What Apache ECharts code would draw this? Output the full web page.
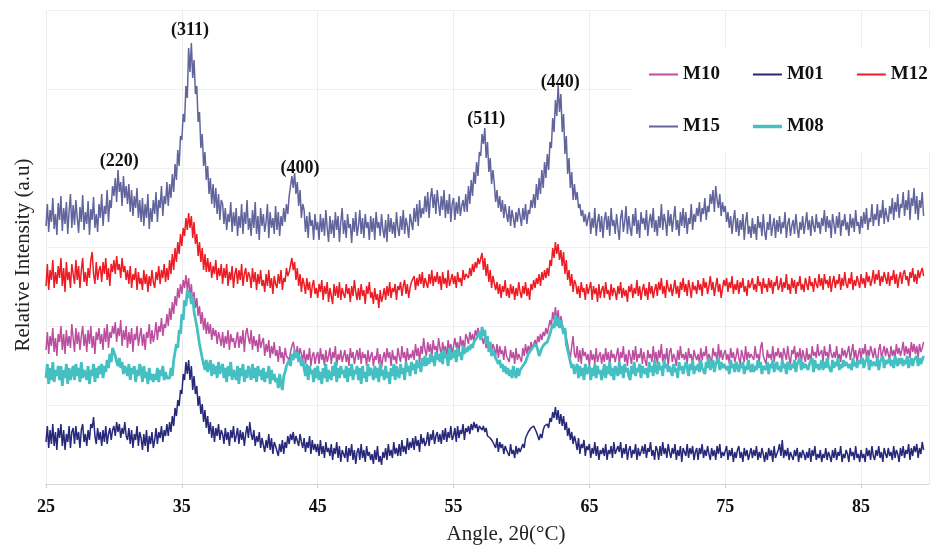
<!DOCTYPE html>
<html>
<head>
<meta charset="utf-8">
<title>XRD patterns</title>
<script src="https://cdn.jsdelivr.net/npm/echarts@6/dist/echarts.min.js"></script>
<style>
  html, body { margin: 0; padding: 0; background: #fff; }
  #chart { width: 933px; height: 555px; }
</style>
</head>
<body>
<div id="chart"></div>
<script>
// 2theta grid: 25.0 .. 89.6, step 0.1
const startAngle = 25
const stepAngle = 0.1

// intensities (a.u., offset per sample), one row = 2 degrees
const m15 = [
  258,280,252,274,262,286,255,270,249,281, 264,288,253,276,260,282,250,273,290,256,
  279,259,284,266,251,277,262,289,254,272, 260,283,249,275,264,287,256,270,252,280,
  266,290,258,278,270,294,262,284,276,298, 288,306,282,314,292,302,278,308,286,298,
  280,300,272,294,268,288,276,296,266,284, 262,286,258,280,266,290,255,276,262,284,
  270,292,262,284,276,298,268,288,280,302, 278,300,286,310,292,320,304,334,318,348,
  344,370,362,398,386,436,412,441,406,424, 390,398,362,372,336,350,318,332,304,318,
  290,306,280,300,276,296,270,290,264,284, 280,260,276,254,270,262,282,252,272,258,
  276,248,268,256,280,250,272,260,284,254, 266,248,274,256,282,250,268,244,276,258,
  270,252,262,280,246,272,256,266,250,278, 254,272,248,268,258,276,262,280,270,288,
  286,308,296,311,290,302,278,294,266,280, 274,252,268,246,272,258,264,244,270,254,
  262,244,270,252,266,248,274,256,242,268, 250,264,246,272,254,268,242,262,276,250,
  264,246,270,256,260,241,266,252,272,248, 258,274,250,266,246,270,256,262,244,268,
  252,266,244,272,256,262,248,270,254,246, 264,242,270,252,266,250,262,246,272,256,
  248,268,254,274,250,266,258,246,270,262, 254,276,262,280,258,284,266,276,270,288,
  272,292,266,286,296,276,290,270,294,280, 268,288,274,294,266,284,270,290,262,280,
  286,264,282,270,288,268,278,284,272,290, 272,298,280,304,288,312,300,322,308,332,
  328,350,340,356,326,342,312,326,300,314, 300,282,294,276,288,272,284,266,280,270,
  262,278,258,274,266,256,272,262,276,268, 258,276,264,280,260,274,270,284,276,290,
  276,300,284,306,290,314,296,322,306,330, 314,342,336,366,352,384,368,399,372,390,
  352,370,330,348,310,326,296,312,284,300, 284,292,276,280,268,274,262,270,258,266,
  272,250,266,256,276,248,262,270,252,268, 246,264,272,254,268,248,276,258,264,250,
  270,256,244,266,274,252,262,278,250,268, 256,248,270,258,276,250,264,246,272,260,
  266,254,274,248,262,270,256,276,252,264, 248,268,256,280,254,270,262,248,274,258,
  270,252,266,278,254,264,248,272,258,276, 256,272,250,266,260,280,254,270,262,276,
  268,282,262,276,270,286,264,278,272,290, 280,294,272,298,284,276,290,268,282,272,
  278,262,272,256,268,250,264,274,252,266, 248,264,254,270,244,262,272,250,258,246,
  266,250,260,244,268,256,262,248,270,252, 244,262,254,270,248,258,266,246,264,252,
  268,250,262,256,272,246,260,266,248,258, 264,250,270,256,246,262,254,268,250,260,
  272,254,264,248,268,258,252,270,256,262, 250,266,258,274,252,268,256,264,246,270,
  260,250,268,256,272,248,264,258,270,254, 262,248,270,256,266,252,274,258,262,250,
  268,256,272,260,276,254,266,262,280,258, 270,264,280,258,274,266,284,260,276,268,
  262,278,270,286,264,282,272,290,266,280, 276,292,268,284,274,294,264,286,278,296,
  270,288,264,284,276,292,268
]
const m12 = [
  198,220,194,214,204,224,196,212,200,218, 206,226,198,216,192,222,204,212,196,220,
  210,200,224,204,218,196,214,226,202,212, 198,216,206,224,232,210,200,222,204,214,
  218,202,222,210,226,204,216,198,220,212, 224,210,228,214,220,206,226,212,218,204,
  214,200,218,196,210,204,216,194,212,200, 206,194,214,200,210,192,208,198,214,202,
  196,212,204,218,200,214,206,220,202,216, 204,224,210,230,214,236,222,242,230,250,
  238,256,248,266,254,271,256,268,246,262, 240,250,228,242,222,236,214,230,212,226,
  212,222,206,218,210,224,204,216,208,220, 200,216,206,220,198,212,204,218,196,210,
  216,200,214,204,220,198,210,216,202,212, 208,196,216,202,212,194,210,200,214,198,
  204,192,210,198,214,196,206,190,208,200, 196,210,200,214,194,206,202,216,208,212,
  212,226,214,222,204,216,198,210,192,206, 200,190,206,194,202,186,198,204,190,196,
  186,200,192,204,184,198,190,202,182,196, 194,180,200,188,198,186,202,184,196,190,
  186,200,190,196,182,198,188,204,192,184, 196,184,200,188,194,180,198,190,202,186,
  192,180,196,184,190,176,194,182,188,196, 184,198,188,202,186,196,192,200,184,198,
  194,202,188,198,204,190,200,186,196,202, 200,208,194,206,198,210,200,212,196,206,
  204,196,210,200,214,198,208,202,212,200, 208,194,212,200,206,196,214,198,204,210,
  200,208,196,212,202,206,198,214,204,210, 212,206,216,208,220,212,222,216,226,220,
  218,231,214,226,208,220,202,214,196,208, 206,194,202,190,200,186,198,192,204,188,
  196,186,200,190,198,184,196,188,202,192, 186,198,190,202,188,196,184,200,194,204,
  196,206,200,210,198,212,204,214,206,216, 208,224,218,236,226,242,230,240,224,234,
  218,232,210,224,204,214,198,210,192,204, 200,190,198,186,202,192,196,184,200,190,
  188,202,184,198,190,196,182,200,186,194, 198,186,202,190,194,184,200,188,196,192,
  184,198,190,202,186,196,188,194,182,198, 192,200,186,196,190,204,188,198,184,194,
  200,188,196,184,202,190,198,186,194,200, 188,202,194,206,190,198,186,204,196,192,
  200,188,196,204,190,198,186,202,194,206, 192,200,188,204,196,186,202,194,198,190,
  204,194,200,188,206,196,202,190,198,208, 194,202,188,198,206,192,200,186,196,204,
  198,206,192,202,196,208,190,200,194,204, 190,202,196,206,192,198,188,204,196,200,
  206,194,200,192,208,198,202,190,206,196, 200,192,206,196,204,190,202,198,208,194,
  198,206,192,202,196,210,194,200,190,206, 196,204,190,202,198,208,194,200,192,206,
  204,194,208,198,202,192,206,200,196,210, 198,206,194,210,200,204,196,208,192,202,
  208,196,204,200,210,194,206,198,212,200, 196,206,200,212,194,204,198,208,202,196,
  210,200,206,196,212,202,208,198,204,214, 200,210,204,214,198,208,202,212,206,200,
  212,198,208,204,214,200,210,196,206,212, 200,210,214,204,208,198,212,206,216,202,
  210,200,214,206,212,216,208
]
const m10 = [
  134,152,130,148,138,156,132,146,128,150, 142,158,134,150,130,154,138,148,136,160,
  146,132,156,140,152,134,148,158,138,150, 132,154,140,158,136,148,130,152,144,156,
  140,150,134,156,142,160,136,152,146,158, 150,162,142,156,148,164,138,154,144,158,
  136,152,140,156,132,150,144,158,138,148, 156,138,150,134,152,146,160,140,154,142,
  150,162,144,158,152,166,148,160,156,170, 158,176,164,182,170,188,178,196,186,200,
  190,204,196,209,194,206,188,200,180,192, 176,186,168,178,160,172,154,166,150,162,
  150,160,144,156,148,154,140,152,146,138, 152,136,148,140,154,134,150,142,146,136,
  144,152,136,148,140,154,132,150,156,146, 140,154,134,148,138,144,132,150,136,142,
  146,128,140,132,144,126,138,130,142,128, 134,122,138,126,132,120,136,128,130,124,
  132,138,142,134,128,138,126,136,130,124, 134,120,130,124,136,118,128,132,120,128,
  132,120,136,124,130,118,134,122,128,136, 120,132,126,138,118,130,124,134,122,128,
  134,122,130,118,136,126,132,120,128,134, 124,136,120,132,126,130,118,134,122,128,
  132,118,128,124,136,120,130,116,126,132, 122,136,126,132,118,134,124,128,120,136,
  128,122,138,126,132,120,136,124,130,126, 134,124,140,128,136,122,138,130,146,134,
  128,142,132,140,126,144,134,138,130,146, 136,128,142,132,138,126,144,134,140,130,
  132,146,136,142,130,148,138,144,134,150, 146,140,152,144,150,142,154,148,156,150,
  152,146,140,148,136,144,134,142,130,140, 136,128,140,126,138,130,134,124,138,128,
  130,122,134,126,132,120,136,124,130,126, 122,136,128,140,130,138,132,142,136,140,
  144,138,148,142,150,144,152,148,156,150, 150,164,158,172,164,177,162,174,158,168,
  160,152,156,146,140,132,126,138,148,130, 126,138,122,134,120,136,128,132,124,130,
  118,134,124,130,120,136,122,128,132,120, 130,122,136,124,132,118,134,126,130,122,
  124,136,120,132,126,138,122,130,118,134, 128,120,134,124,138,122,130,126,136,120,
  132,124,118,134,126,130,122,138,124,132, 120,134,126,140,122,130,124,136,118,132,
  136,122,130,126,118,134,124,138,126,130, 124,132,120,136,126,130,118,134,128,124,
  130,120,136,124,132,128,138,122,130,126, 122,136,128,132,120,140,126,134,124,130,
  134,124,130,120,136,126,132,122,128,136, 126,120,134,128,122,138,124,132,126,130,
  132,124,138,126,130,122,136,142,128,124, 120,134,126,130,124,138,122,132,128,136,
  126,132,122,136,130,124,138,126,120,134, 130,138,124,132,126,136,120,134,128,122,
  136,124,130,122,138,128,132,126,140,128, 126,134,122,138,128,132,124,140,130,126,
  132,126,138,124,130,122,136,128,134,126, 128,138,124,132,140,126,134,122,130,136,
  124,136,130,140,126,134,128,138,132,126, 136,128,122,134,140,126,132,138,128,136,
  130,124,138,128,134,126,140,130,136,128, 134,142,128,138,130,136,126,142,132,140,
  130,138,126,140,132,136,142
]
const m08 = [
  106,120,100,116,104,122,102,114,108,118, 104,118,98,114,106,120,100,116,104,112,
  118,104,120,108,116,102,122,106,114,110, 104,118,100,114,108,120,102,116,106,118,
  110,120,106,118,112,124,116,130,122,136, 134,128,122,118,126,116,122,110,118,114,
  108,120,104,116,110,118,102,114,108,120, 114,102,118,106,112,100,116,104,110,102,
  110,104,116,102,114,108,118,104,112,106, 108,106,116,108,124,122,140,136,154,150,
  170,164,184,178,194,186,192,180,188,172, 174,158,156,140,140,126,128,114,124,112,
  112,124,108,120,110,118,106,122,110,116, 120,106,116,102,118,108,122,104,114,110,
  104,118,100,116,108,120,102,114,106,118, 112,104,120,106,116,102,118,108,114,104,
  116,102,112,106,118,100,114,104,110,102, 106,96,110,100,94,108,112,118,116,124,
  118,130,124,134,126,132,122,128,118,124, 116,108,120,104,118,110,114,102,116,106,
  118,104,112,100,116,106,120,102,114,108, 104,118,108,122,102,116,106,118,110,114,
  106,118,102,116,108,120,104,114,110,118, 104,116,100,118,106,112,102,120,108,116,
  112,104,118,106,116,102,120,108,114,104, 118,106,112,100,116,108,120,104,118,110,
  106,120,110,116,104,122,112,118,108,122, 114,120,110,124,116,122,112,126,118,128,
  118,126,120,130,122,128,118,132,124,130, 122,132,120,134,126,130,118,136,124,132,
  126,134,122,136,128,132,124,138,130,136, 132,138,134,140,136,142,144,146,148,152,
  144,157,148,154,140,148,132,142,128,134, 132,126,124,120,124,116,120,112,118,110,
  116,108,114,106,118,110,106,116,108,114, 112,118,116,122,126,130,128,134,132,138,
  136,139,134,128,132,136,134,140,138,142, 140,150,148,160,156,169,158,166,156,164,
  162,150,156,140,142,128,130,116,120,110, 110,120,106,118,108,116,104,120,110,114,
  118,104,116,108,120,106,118,110,114,104, 112,120,106,118,110,122,108,116,104,118,
  116,108,122,110,118,106,120,112,116,108, 104,118,110,122,108,116,112,120,106,118,
  120,110,116,106,122,112,118,108,124,114, 110,122,114,118,108,124,116,120,112,118,
  118,108,120,112,116,106,122,114,118,110, 112,122,116,108,120,114,124,110,118,114,
  120,112,124,116,118,110,122,116,126,114, 116,124,112,120,118,126,114,122,116,120,
  122,114,118,110,124,116,120,112,122,118, 112,120,116,122,110,118,114,124,116,112,
  120,112,118,114,124,116,122,110,118,116, 114,122,110,120,116,124,112,118,122,114,
  118,112,124,116,120,110,122,118,114,120, 116,124,112,120,118,126,114,122,116,120,
  122,114,120,118,126,112,124,116,120,114, 118,124,114,122,116,126,118,120,112,124,
  116,122,118,126,114,120,116,124,118,122, 124,116,120,114,126,118,122,116,124,120,
  118,126,116,122,120,128,114,124,118,122, 124,118,126,114,122,120,128,116,124,120,
  120,126,118,124,116,128,122,118,126,120, 126,118,124,120,128,116,122,126,118,124,
  122,128,118,126,120,124,128
]
const m01 = [
  42,58,36,54,40,60,38,52,34,56, 46,60,38,54,34,50,42,58,36,52,
  56,40,58,44,52,36,54,60,42,50, 38,54,44,60,56,67,48,40,56,44,
  52,38,54,42,58,40,50,56,44,54, 58,48,62,52,60,46,56,50,62,48,
  44,56,40,54,36,50,44,58,38,52, 46,34,50,38,54,32,48,40,52,36,
  44,56,40,52,46,58,42,54,48,60, 48,62,52,68,58,76,68,84,78,94,
  90,110,104,122,110,124,104,118,94,108, 90,98,78,88,70,80,62,74,56,68,
  50,62,46,58,42,56,48,60,44,54, 50,40,56,44,52,38,54,46,58,42,
  48,56,40,54,44,52,38,50,58,46, 62,50,44,54,38,48,42,52,36,46,
  48,32,44,36,50,34,46,30,42,38, 36,28,40,32,44,30,42,36,48,40,
  50,44,52,40,48,46,38,50,42,36, 46,32,42,36,48,30,44,34,40,32,
  40,28,44,30,38,26,42,32,36,28, 40,24,36,30,42,26,38,22,34,30,
  26,38,22,36,28,40,24,34,20,32, 36,24,40,26,34,22,38,28,32,24,
  30,20,34,24,38,22,28,19,32,26, 36,24,40,28,34,26,42,30,36,28,
  40,28,44,32,38,30,46,34,42,36, 46,34,48,38,44,32,50,40,46,38,
  42,52,38,50,44,54,40,48,52,42, 50,40,54,44,56,42,52,46,58,44,
  48,56,42,58,46,54,50,60,44,56, 52,58,50,60,54,62,56,60,52,58,
  60,54,58,52,56,48,50,46,48,42, 44,36,46,32,42,36,40,30,38,34,
  36,28,40,30,34,26,38,30,36,32, 32,40,36,46,44,52,50,56,54,58,
  57,52,48,44,50,46,54,58,56,60, 56,66,62,72,66,77,64,74,60,70,
  58,68,54,62,48,56,44,52,40,48, 42,34,46,30,40,36,44,28,38,34,
  40,26,36,30,42,28,38,24,34,30, 36,28,40,24,34,30,38,26,42,30,
  28,38,32,42,26,36,30,40,24,34, 38,26,34,30,40,24,36,28,32,38,
  30,40,26,36,32,42,28,34,24,38, 34,24,38,28,42,30,36,26,40,32,
  26,36,30,40,24,34,28,38,22,36, 34,28,40,26,36,30,38,24,32,36,
  24,36,30,40,26,34,28,38,30,24, 36,28,34,24,38,30,40,26,32,28,
  30,38,24,34,28,36,22,32,26,34, 38,26,32,22,36,28,34,24,30,36,
  26,34,28,38,24,32,26,36,30,22, 32,24,36,28,34,22,38,26,30,34,
  40,28,44,26,34,28,36,24,32,28, 24,34,28,36,22,32,26,34,30,24,
  32,26,36,22,34,28,38,24,30,26, 34,22,30,26,36,24,32,28,22,34,
  26,36,24,32,28,38,22,30,26,34, 30,22,36,28,32,24,38,26,30,22,
  34,26,30,22,36,28,34,24,38,28, 24,34,28,38,26,32,22,36,30,26,
  36,28,32,24,38,26,34,30,22,36, 28,38,26,34,30,40,24,36,28,38,
  32,40,26,36,30,42,34
]

const peakLabels = ['(220)', '(311)', '(400)', '(511)', '(440)']
const peakAngles = [30.4, 35.6, 43.7, 57.4, 62.85]
const peakHeights = [323, 454, 316, 365, 402]

const tickLabels = ['25', '35', '45', '55', '65', '75', '85']

const serif = 'Liberation Serif'
const thinIcon = 'path://M0,0L29,0L29,2L0,2Z'
const thickIcon = 'path://M0,0L29,0L29,3.5L0,3.5Z'

function toPoints(values) {
  return values.map((v, i) => [+(startAngle + i * stepAngle).toFixed(1), v])
}

function makeSeries(name, values, color, width) {
  return {
    name: name,
    type: 'line',
    xAxisIndex: 0,
    yAxisIndex: 0,
    data: toPoints(values),
    showSymbol: false,
    symbol: 'none',
    lineStyle: { color: color, width: width },
    itemStyle: { color: color }
  }
}

const chart = echarts.init(document.getElementById('chart'), null, { renderer: 'canvas' })

const m15Series = makeSeries('M15', m15, '#62649c', 1.5)
m15Series.markPoint = {
  symbol: 'circle',
  symbolSize: 1,
  silent: true,
  itemStyle: { color: 'rgba(0,0,0,0)' },
  label: {
    show: true,
    position: 'inside',
    formatter: '{b}',
    fontFamily: serif,
    fontWeight: 'bold',
    fontSize: 18,
    color: '#111'
  },
  data: peakLabels.map((t, i) => ({ name: t, coord: [peakAngles[i], peakHeights[i]] }))
}

chart.setOption({
  animation: false,
  backgroundColor: '#fff',
  grid: {
    left: 46,
    right: 4,
    top: 10,
    bottom: 71
  },
  legend: {
    data: [
      { name: 'M10', icon: thinIcon },
      { name: 'M01', icon: thinIcon },
      { name: 'M12', icon: thinIcon },
      { name: 'M15', icon: thinIcon },
      { name: 'M08', icon: thickIcon }
    ],
    left: 632,
    top: 48,
    width: 285,
    padding: [17, 10, 17, 17],
    itemGap: 33,
    itemWidth: 29,
    itemHeight: 14,
    backgroundColor: '#fff',
    textStyle: {
      fontFamily: serif,
      fontWeight: 'bold',
      fontSize: 19,
      color: '#111'
    }
  },
  xAxis: [
    {
      // data axis, hidden
      type: 'value',
      min: 25,
      max: 90,
      show: false,
      position: 'bottom'
    },
    {
      // display axis, ticks every 10 starting at 25
      type: 'value',
      min: 0,
      max: 65,
      interval: 10,
      position: 'bottom',
      name: 'Angle, 2θ(°C)',
      nameLocation: 'middle',
      nameGap: 40,
      nameTextStyle: {
        fontFamily: serif,
        fontSize: 21,
        color: '#222',
        padding: [0, 0, 0, 37]
      },
      axisLine: { lineStyle: { color: '#d6d6d6', width: 1 } },
      axisTick: { show: true, length: 4, lineStyle: { color: '#d0d0d0' } },
      axisLabel: {
        margin: 14,
        fontFamily: serif,
        fontWeight: 'bold',
        fontSize: 18,
        color: '#111',
        showMaxLabel: false,
        formatter: (v, i) => tickLabels[i] || ''
      },
      splitLine: { show: true, lineStyle: { color: '#ececec', width: 1 } }
    }
  ],
  yAxis: {
    type: 'value',
    min: 0,
    max: 474,
    interval: 79,
    name: 'Relative Intensity (a.u)',
    nameLocation: 'middle',
    nameGap: 12,
    nameTextStyle: {
      fontFamily: serif,
      fontSize: 21,
      color: '#222',
      padding: [0, 16, 0, 0]
    },
    axisLine: { show: false },
    axisTick: { show: false },
    axisLabel: { show: false },
    splitLine: { show: true, lineStyle: { color: '#f0f0f0', width: 1 } }
  },
  series: [
    makeSeries('M10', m10, '#bc4ea0', 1.5),
    makeSeries('M01', m01, '#27287a', 1.5),
    makeSeries('M12', m12, '#ed1c24', 1.5),
    m15Series,
    makeSeries('M08', m08, '#45c0c2', 2.8)
  ]
})
</script>
</body>
</html>
